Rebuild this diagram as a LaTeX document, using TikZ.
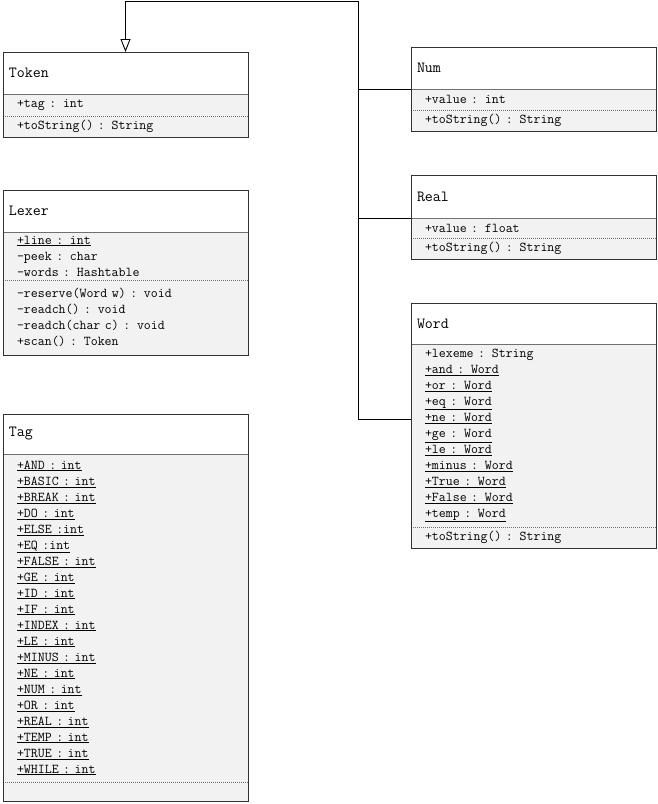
\documentclass[tikz,border=0pt]{standalone}
\usetikzlibrary{arrows.meta,calc}

\definecolor{boxfill}{RGB}{242,242,242}
\definecolor{boxline}{RGB}{50,50,50}
\definecolor{sepline}{RGB}{110,110,110}

\tikzset{
  classhead/.style={draw=boxline, fill=white, anchor=north west, outer sep=0pt,
    inner xsep=6pt, inner ysep=0pt, text width=233pt, align=left,
    font=\fontsize{15.5}{18}\selectfont\ttfamily},
  compart/.style={fill=boxfill, anchor=north west, outer sep=0pt,
    inner xsep=14pt, inner ysep=0pt, text width=217pt, align=left,
    font=\fontsize{13.5}{16}\selectfont\ttfamily},
  outline/.style={draw=boxline, line width=0.8pt},
  headsep/.style={draw=boxline!70, line width=0.8pt},
  membersep/.style={draw=sepline, dash pattern=on 1pt off 1pt, line width=0.6pt},
  inherit/.style={draw=black, line width=0.9pt},
}

\begin{document}
\begin{tikzpicture}[x=1pt, y=1pt]
    \useasboundingbox (0,0) rectangle (657,-804);

    % left column
    \node[classhead, minimum height=42] (token) at (3,-52) {Token};
    \node[compart, minimum height=22] (tokenattr) at (token.south west) {+tag : int};
    \node[compart, minimum height=21] (tokenops) at (tokenattr.south west) {+toString() : String};

    \node[classhead, minimum height=42] (lexer) at (3,-190) {Lexer};
    \node[compart, minimum height=48] (lexerattr) at (lexer.south west)
        {\underline{+line : int}\\-peek : char\\-words : Hashtable};
    \node[compart, minimum height=75] (lexerops) at (lexerattr.south west)
        {-reserve(Word w) : void\\-readch() : void\\-readch(char c) : void\\+scan() : Token};

    \node[classhead, minimum height=40] (tag) at (3,-414) {Tag};
    \node[compart, minimum height=328] (tagattr) at (tag.south west)
        {\underline{+AND : int}\\\underline{+BASIC : int}\\\underline{+BREAK : int}\\
         \underline{+DO : int}\\\underline{+ELSE :int}\\\underline{+EQ :int}\\
         \underline{+FALSE : int}\\\underline{+GE : int}\\\underline{+ID : int}\\
         \underline{+IF : int}\\\underline{+INDEX : int}\\\underline{+LE : int}\\
         \underline{+MINUS : int}\\\underline{+NE : int}\\\underline{+NUM : int}\\
         \underline{+OR : int}\\\underline{+REAL : int}\\\underline{+TEMP : int}\\
         \underline{+TRUE : int}\\\underline{+WHILE : int}};
    \node[compart, minimum height=19] (tagops) at (tagattr.south west) {};

    % right column
    \node[classhead, minimum height=42] (num) at (411,-47) {Num};
    \node[compart, minimum height=21] (numattr) at (num.south west) {+value : int};
    \node[compart, minimum height=21] (numops) at (numattr.south west) {+toString() : String};

    \node[classhead, minimum height=43] (real) at (411,-175) {Real};
    \node[compart, minimum height=20] (realattr) at (real.south west) {+value : float};
    \node[compart, minimum height=21] (realops) at (realattr.south west) {+toString() : String};

    \node[classhead, minimum height=41] (word) at (411,-303) {Word};
    \node[compart, minimum height=183] (wordattr) at (word.south west)
        {+lexeme : String\\\underline{+and : Word}\\\underline{+or : Word}\\
         \underline{+eq : Word}\\\underline{+ne : Word}\\\underline{+ge : Word}\\
         \underline{+le : Word}\\\underline{+minus : Word}\\\underline{+True : Word}\\
         \underline{+False : Word}\\\underline{+temp : Word}};
    \node[compart, minimum height=21] (wordops) at (wordattr.south west) {+toString() : String};

    % outlines and separators
    \foreach \c in {token,lexer,tag,num,real,word} {
        \draw[headsep] (\c.south west) -- (\c.south east);
        \draw[membersep] (\c attr.south west) -- (\c attr.south east);
        \draw[outline] (\c.north west) rectangle (\c ops.south east);
    }

    % generalization
    \coordinate (trunktop) at (358,-1);
    \draw[inherit, -{Triangle[open, length=13pt, width=10pt]}]
        ($(wordattr.north west)+(0,-75)$) -| (trunktop) -| (token.north);
    \draw[inherit] (num.south west) -- (num.south west -| trunktop);
    \draw[inherit] (real.south west) -- (real.south west -| trunktop);
\end{tikzpicture}
\end{document}
